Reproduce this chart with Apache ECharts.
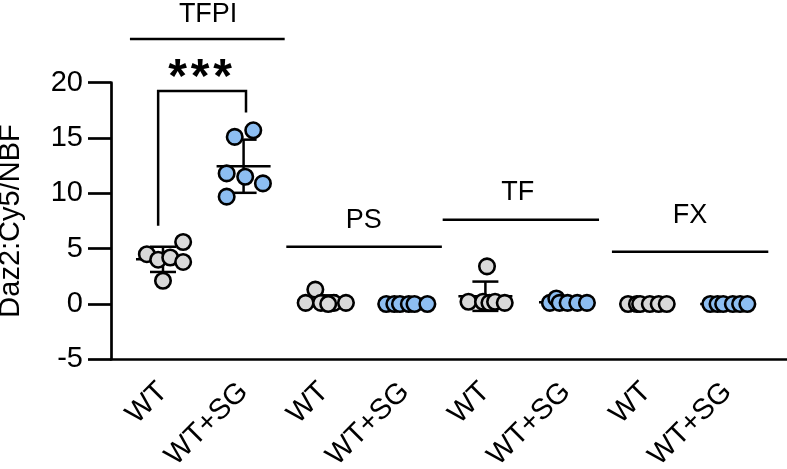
<!DOCTYPE html>
<html>
<head>
<meta charset="utf-8">
<script src="https://cdn.jsdelivr.net/npm/echarts@6/dist/echarts.min.js"></script>
<style>
  html, body { margin: 0; padding: 0; background: #ffffff; }
  #chart { width: 787px; height: 469px; }
</style>
</head>
<body>
<div id="chart"></div>
<script>
// ---------------- DATA ----------------
const categories = ['WT', 'WT+SG', 'WT', 'WT+SG', 'WT', 'WT+SG', 'WT', 'WT+SG'];
const groupNames = ['TFPI', 'PS', 'TF', 'FX'];
const yMin = -5, yMax = 20, yStep = 5;
const yTitle = 'Daz2:Cy5/NBF';
const significance = ['*', '*', '*'];

// Daz2:Cy5/NBF values per animal
const tfpiWT = [4.5, 4.0, 4.2, 5.6, 3.8, 2.1];
const tfpiSG = [15.1, 15.7, 11.8, 11.5, 10.9, 9.7];
const psWT   = [1.3, 0.1, 0.1, 0.1, 0.1, 0.0];
const psSG   = [0.0, 0.0, 0.0, 0.0, 0.0, 0.0];
const tfWT   = [3.4, 0.2, 0.2, 0.1, 0.2, 0.1];
const tfSG   = [0.1, 0.5, 0.1, 0.1, 0.1, 0.1];
const fxWT   = [0.0, 0.0, 0.0, 0.0, 0.0, 0.0];
const fxSG   = [0.0, 0.0, 0.0, 0.0, 0.0, 0.0];

// horizontal spread of the dots inside each column (category units)
const tfpiWTdx = [-0.20, -0.06, 0.09, 0.25, 0.25, 0.00];
const tfpiSGdx = [-0.11, 0.12, -0.21, 0.02, 0.24, -0.21];
const psWTdx   = [-0.11, -0.23, -0.04, 0.12, 0.27, 0.05];
const psSGdx   = [-0.23, -0.13, -0.06, 0.05, 0.12, 0.28];
const tfWTdx   = [0.02, -0.21, -0.03, 0.05, 0.12, 0.24];
const tfSGdx   = [-0.20, -0.12, -0.08, 0.02, 0.14, 0.26];
const fxWTdx   = [-0.23, -0.12, -0.08, 0.04, 0.15, 0.25];
const fxSGdx   = [-0.21, -0.12, -0.05, 0.07, 0.16, 0.25];

// ---------------- LAYOUT / STYLE ----------------
const columns = [
  [tfpiWT, tfpiWTdx], [tfpiSG, tfpiSGdx],
  [psWT, psWTdx], [psSG, psSGdx],
  [tfWT, tfWTdx], [tfSG, tfSGdx],
  [fxWT, fxWTdx], [fxSG, fxSGdx]
];
const fillWT = '#D9D9D9';
const fillSG = '#8DBEF2';
const FONT = 'Liberation Sans, Arial, sans-serif';

// group annotation placement (data units): [xStart, xEnd, lineY, textX, textY]
const groupLayout = [
  [-0.41, 1.51, 23.94, 0.56, 26.2],
  [1.53, 3.46, 5.17, 2.49, 7.52],
  [3.47, 5.41, 7.61, 4.40, 10.05],
  [5.57, 7.51, 4.72, 6.54, 7.97]
];
// bracket: [xLeft, yLeftEnd, xRight, yRightEnd, yTop, starX, starY]
const bracketLayout = [[-0.06, 7.07, 1.03, 17.3, 19.25, 0.46, 20.4]];

function mean(a) { return a.reduce((s, v) => s + v, 0) / a.length; }
function sd(a) {
  const m = mean(a);
  return Math.sqrt(a.reduce((s, v) => s + (v - m) * (v - m), 0) / (a.length - 1));
}

const series = [];
columns.forEach(([vals, dx], i) => {
  series.push({
    type: 'scatter',
    xAxisIndex: 0, yAxisIndex: 0,
    symbol: 'circle',
    symbolSize: 15.5,
    z: 5,
    itemStyle: { color: i % 2 === 0 ? fillWT : fillSG, borderColor: '#000', borderWidth: 2.6, opacity: 1 },
    emphasis: { disabled: true },
    data: vals.map((v, k) => [i + dx[k], v])
  });
});

// mean ± SD
const errData = columns.map(([vals], i) => [i, mean(vals), sd(vals)]);
series.push({
  type: 'custom',
  xAxisIndex: 0, yAxisIndex: 0,
  z: 3,
  data: errData,
  renderItem: function (params, api) {
    const i = api.value(0), m = api.value(1), s = api.value(2);
    const c = api.coord([i, m]);
    const t = api.coord([i, m + s]);
    const b = api.coord([i, m - s]);
    const st = { stroke: '#000', lineWidth: 2.5 };
    return {
      type: 'group',
      children: [
        { type: 'line', shape: { x1: c[0], y1: t[1], x2: c[0], y2: b[1] }, style: st },
        { type: 'line', shape: { x1: c[0] - 13, y1: t[1], x2: c[0] + 13, y2: t[1] }, style: st },
        { type: 'line', shape: { x1: c[0] - 13, y1: b[1], x2: c[0] + 13, y2: b[1] }, style: st },
        { type: 'line', shape: { x1: c[0] - 27, y1: c[1], x2: c[0] + 27, y2: c[1] }, style: st }
      ]
    };
  }
});

// group labels with lines
series.push({
  type: 'custom',
  xAxisIndex: 0, yAxisIndex: 0,
  z: 4,
  clip: false,
  data: groupLayout.map((g, k) => g.concat([k])),
  renderItem: function (params, api) {
    const a = api.coord([api.value(0), api.value(2)]);
    const b = api.coord([api.value(1), api.value(2)]);
    const tp = api.coord([api.value(3), api.value(4)]);
    return {
      type: 'group',
      children: [
        { type: 'line', shape: { x1: a[0], y1: a[1], x2: b[0], y2: b[1] }, style: { stroke: '#000', lineWidth: 2.5 } },
        { type: 'text', x: tp[0], y: tp[1],
          style: { text: groupNames[api.value(5)], fill: '#000', font: '27px ' + FONT, align: 'center', verticalAlign: 'middle' } }
      ]
    };
  }
});

// significance bracket
series.push({
  type: 'custom',
  xAxisIndex: 0, yAxisIndex: 0,
  z: 4,
  clip: false,
  data: bracketLayout,
  renderItem: function (params, api) {
    const l0 = api.coord([api.value(0), api.value(1)]);
    const l1 = api.coord([api.value(0), api.value(4)]);
    const r1 = api.coord([api.value(2), api.value(4)]);
    const r0 = api.coord([api.value(2), api.value(3)]);
    const sp = api.coord([api.value(5), api.value(6)]);
    const children = [
      { type: 'polyline', shape: { points: [l0, l1, r1, r0] }, style: { stroke: '#000', lineWidth: 2.5, fill: null } }
    ];
    significance.forEach((s, k) => {
      children.push({ type: 'text', x: sp[0] + (k - 1) * 22.5, y: sp[1],
        style: { text: s, fill: '#000', font: 'bold 48px ' + FONT, align: 'center', verticalAlign: 'middle' } });
    });
    return { type: 'group', children: children };
  }
});

const option = {
  animation: false,
  backgroundColor: '#ffffff',
  textStyle: { fontFamily: FONT },
  grid: [
    { left: 111, right: 0, top: 82.7, bottom: 109.7, outerBoundsMode: 'none', containLabel: false },
    { left: 122.7, right: 19.5, top: 82.7, bottom: 109.7, outerBoundsMode: 'none', containLabel: false }
  ],
  xAxis: [
    {
      type: 'value', gridIndex: 0, min: -0.645, max: 7.742,
      axisLine: { show: true, onZero: false, lineStyle: { color: '#000', width: 2.7 } },
      axisTick: { show: false }, axisLabel: { show: false }, splitLine: { show: false }
    },
    {
      type: 'category', gridIndex: 1, data: categories, boundaryGap: true,
      axisLine: { show: false }, axisTick: { show: false }, splitLine: { show: false },
      axisLabel: { interval: 0, rotate: 45, margin: 28, color: '#000', fontSize: 29, fontFamily: FONT }
    }
  ],
  yAxis: [
    {
      type: 'value', gridIndex: 0, min: yMin, max: yMax, interval: yStep,
      name: yTitle, nameLocation: 'middle', nameGap: 86,
      nameTextStyle: { color: '#000', fontSize: 29, fontFamily: FONT },
      axisLine: { show: true, onZero: false, lineStyle: { color: '#000', width: 2.7 } },
      axisTick: { show: true, length: 23, lineStyle: { color: '#000', width: 2.7 } },
      axisLabel: { color: '#000', fontSize: 29, margin: 28, fontFamily: FONT },
      splitLine: { show: false }
    },
    {
      type: 'value', gridIndex: 1, min: yMin, max: yMax, interval: yStep, show: false
    }
  ],
  series: series
};

const chart = echarts.init(document.getElementById('chart'), null, { renderer: 'canvas' });
chart.setOption(option);
</script>
</body>
</html>
